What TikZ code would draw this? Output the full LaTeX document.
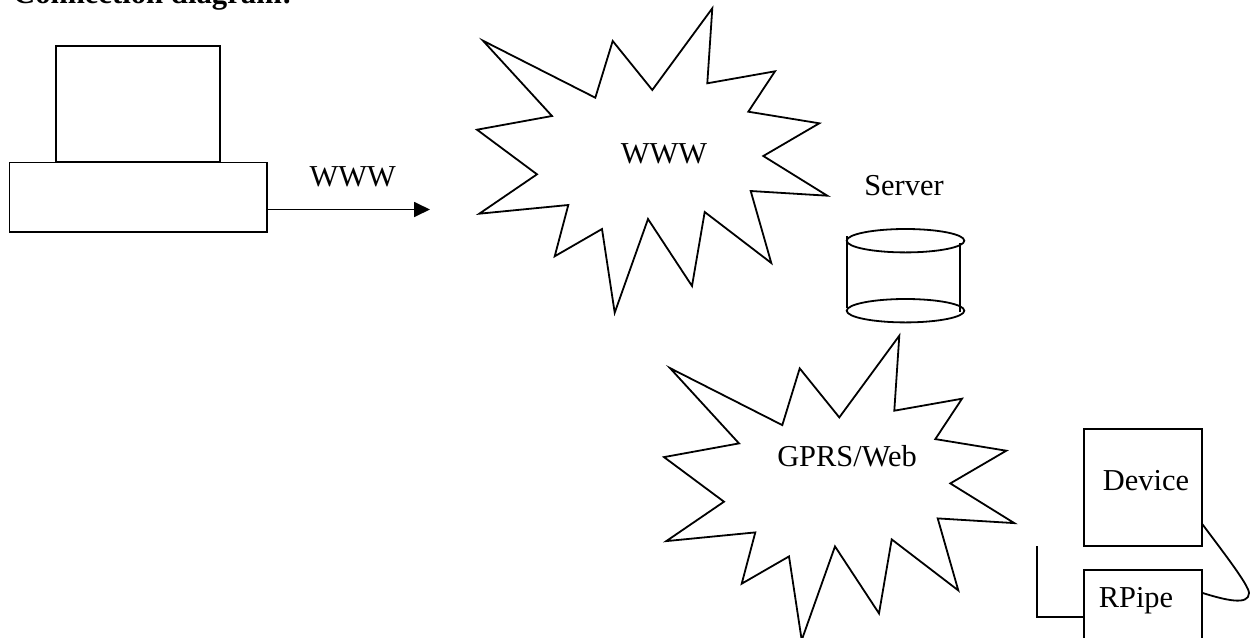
\documentclass[tikz,border=0pt]{standalone}
\usepackage{fontspec}
\setmainfont{Liberation Serif}
\usetikzlibrary{arrows.meta,shapes.geometric}
\tikzset{
  x=1pt,y=-1pt,
  line/.style={draw=black,line width=1.8pt,line join=miter},
  boxnode/.style={line,rectangle,inner sep=0pt,outer sep=0pt,anchor=north west},
  disc/.style={line,ellipse,inner sep=0pt,outer sep=0pt,minimum width=117.6pt,minimum height=23.4pt},
  lbl/.style={font=\fontsize{30.4}{34}\selectfont,inner sep=0pt,anchor=base,text=black},
  burst/.pic={
    \draw[line] (712.3,8.3)--(707.3,83.3)--(775,71.3)--(748.3,111.7)--(819.3,123.3)--(763.3,156)--(827.3,195.7)--(750.7,191)--(771.3,263)--(704.7,212)--(692,286)--(648,219)--(614.7,312.7)--(602,229)--(554.7,256.3)--(568.3,205)--(479.3,213.7)--(537,174.3)--(477,129.7)--(552,116)--(483,40.7)--(595.3,97.7)--(612.7,41)--(652.3,90)--cycle;
  }
}
\begin{document}
\begin{tikzpicture}
\useasboundingbox (0,0) rectangle (1255,637);
\clip (0,0) rectangle (1255,637);
\fill[white] (0,0) rectangle (1255,637);
% title
\node[lbl,anchor=base west,font=\fontsize{30.7}{34}\selectfont\bfseries] (title) at (13,3.2) {Connection diagram:};
% computer
\node[boxnode,minimum width=164pt,minimum height=116pt] (monitor) at (56,46) {};
\node[boxnode,minimum width=257.5pt,minimum height=69.5pt] (base) at (9.5,162.5) {};
\coordinate (basePort) at (267,209.5);
\coordinate (arrowEnd) at (430,209.5);
\draw[line,-{Triangle[length=16pt,width=15pt]}] (basePort) -- (arrowEnd);
\node[lbl] (wwwArrow) at (352.7,186) {WWW};
% bursts
\pic {burst};
\node[lbl] (wwwCloud) at (664,163) {WWW};
\pic[shift={(187,327.4)}] {burst};
\node[lbl] (gprs) at (847,466.7) {GPRS/Web};
% server
\node[lbl] (server) at (904,195) {Server};
\draw[line] (846.7,236) -- (846.7,308);
\draw[line] (960,243) -- (960,312);
\node[disc] (serverTop) at (905.5,240.7) {};
\node[disc] (serverBottom) at (905.5,310.7) {};
% device
\node[boxnode,minimum width=117.7pt,minimum height=116.7pt] (device) at (1084,429.3) {};
\node[lbl] (deviceText) at (1146,490.7) {Device};
\node[boxnode,minimum width=117.7pt,minimum height=80pt] (rpipe) at (1084,569.7) {};
\node[lbl] (rpipeText) at (1136,607.7) {RPipe};
\coordinate (devPort) at (1201.7,523.3);
\coordinate (pipePort) at (1201.7,592.7);
\coordinate (pipeLeft) at (1084,616.7);
\coordinate (stub) at (1037.3,546);
\draw[line] (stub) |- (pipeLeft);
\draw[line] (devPort) .. controls (1220,548) and (1249,585) .. (1249,593) .. controls (1249,606) and (1225,600) .. (pipePort);
\end{tikzpicture}
\end{document}
